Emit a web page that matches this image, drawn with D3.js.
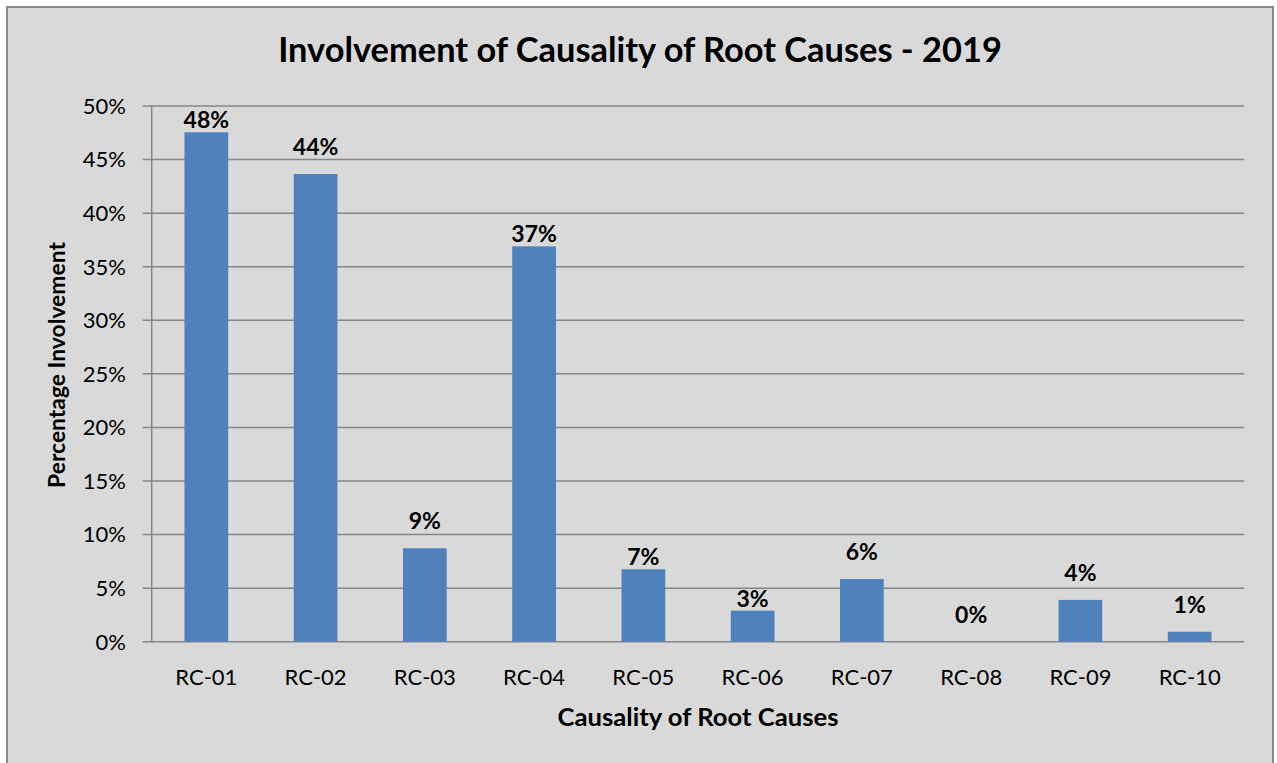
<!DOCTYPE html>
<html>
<head>
<meta charset="utf-8">
<script src="https://cdn.jsdelivr.net/npm/d3@7"></script>
<style>
  html, body { margin: 0; padding: 0; background: #ffffff; }
  svg { display: block; }
  text { font-family: Lato, "Open Sans", sans-serif; fill: #000; }
</style>
</head>
<body>
<svg id="chart" width="1277" height="763"></svg>
<script>
const categories = ["RC-01","RC-02","RC-03","RC-04","RC-05","RC-06","RC-07","RC-08","RC-09","RC-10"];
const values = [0.4755, 0.4365, 0.0872, 0.369, 0.0676, 0.029, 0.0585, 0.0, 0.039, 0.0093];
const valueLabels = ["48%","44%","9%","37%","7%","3%","6%","0%","4%","1%"];
const yTicks = [0, 0.05, 0.10, 0.15, 0.20, 0.25, 0.30, 0.35, 0.40, 0.45, 0.50];
const title = "Involvement of Causality of Root Causes - 2019";
const xTitle = "Causality of Root Causes";
const yTitle = "Percentage Involvement";

// label placement (pixels above bar top), style only
const labelLift = [4, 19, 19, 4, 4, 4, 19, 19, 19, 19];

const svg = d3.select("#chart");

function fit(sel, target) {
  const node = sel.node();
  const fs = parseFloat(sel.style("font-size"));
  const w = node.getComputedTextLength();
  if (w > 0) sel.style("font-size", (fs * target / w).toFixed(2) + "px");
  return sel;
}

// chart area background + border
svg.append("rect")
  .attr("x", 7).attr("y", 7).attr("width", 1266).attr("height", 820)
  .attr("fill", "#d9d9d9").attr("stroke", "#888888").attr("stroke-width", 2);

const plot = { left: 151.7, right: 1244.3, top: 106, bottom: 641.7 };

const x = d3.scaleBand().domain(categories)
  .range([plot.left, plot.right]).paddingInner(0.6).paddingOuter(0.3);
const y = d3.scaleLinear().domain([0, 0.5]).range([plot.bottom, plot.top]);

// gridlines + left ticks
svg.append("g").selectAll("line").data(yTicks).enter().append("line")
  .attr("x1", plot.left - 9).attr("x2", plot.right)
  .attr("y1", d => y(d)).attr("y2", d => y(d))
  .attr("stroke", "#868686").attr("stroke-width", 1.5);

// bars
svg.append("g").selectAll("rect").data(values).enter().append("rect")
  .attr("x", (d, i) => x(categories[i]))
  .attr("width", x.bandwidth())
  .attr("y", d => y(d))
  .attr("height", d => y(0) - y(d))
  .attr("fill", "#4f81bd");

// left axis line
svg.append("line")
  .attr("x1", plot.left).attr("x2", plot.left)
  .attr("y1", plot.top).attr("y2", plot.bottom + 0.75)
  .attr("stroke", "#868686").attr("stroke-width", 1.5);

// y tick labels
svg.append("g").selectAll("text").data(yTicks).enter().append("text")
  .attr("x", 126).attr("y", d => y(d))
  .attr("dy", "0.36em")
  .attr("text-anchor", "end")
  .style("font-size", "22px")
  .text(d => d3.format(".0%")(d));

// x tick labels
svg.append("g").selectAll("text").data(categories).enter().append("text")
  .attr("x", d => x(d) + x.bandwidth() / 2).attr("y", 685)
  .attr("text-anchor", "middle")
  .style("font-size", "22px")
  .text(d => d);

// data labels
svg.append("g").selectAll("text").data(values).enter().append("text")
  .attr("x", (d, i) => x(categories[i]) + x.bandwidth() / 2)
  .attr("y", (d, i) => y(d) - labelLift[i])
  .attr("text-anchor", "middle")
  .style("font-size", "23px").style("font-weight", "bold")
  .text((d, i) => valueLabels[i]);

// title
fit(svg.append("text")
  .attr("x", 640).attr("y", 62)
  .attr("text-anchor", "middle")
  .style("font-size", "34px").style("font-weight", "bold")
  .text(title), 724);

// x axis title
fit(svg.append("text")
  .attr("x", (plot.left + plot.right) / 2).attr("y", 726)
  .attr("text-anchor", "middle")
  .style("font-size", "24px").style("font-weight", "bold")
  .text(xTitle), 281);

// y axis title
fit(svg.append("text")
  .attr("transform", "translate(65,365) rotate(-90)")
  .attr("text-anchor", "middle")
  .style("font-size", "23px").style("font-weight", "bold")
  .text(yTitle), 246);
</script>
</body>
</html>
